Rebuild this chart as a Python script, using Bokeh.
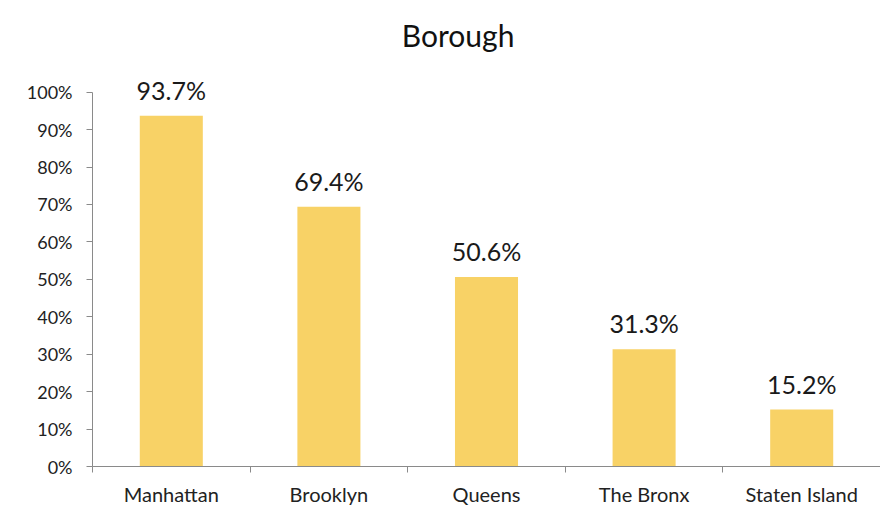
from bokeh.plotting import figure
from bokeh.models import ColumnDataSource, FixedTicker, PrintfTickFormatter, Range1d, Label
from bokeh.core.properties import value
from bokeh.embed import file_html
from bokeh.resources import INLINE

boroughs = ["Manhattan", "Brooklyn", "Queens", "The Bronx", "Staten Island"]
shares = [93.7, 69.4, 50.6, 31.3, 15.2]
title_text = "Borough"

FONT = "Lato"
BAR = "#F8D266"

pos = [i + 0.5 for i in range(len(boroughs))]
src = ColumnDataSource(dict(x=pos, y=shares, lbl=[f"{v:.1f}%" for v in shares]))

p = figure(width=880, height=508, output_backend="svg", toolbar_location=None,
           x_range=Range1d(0, len(boroughs)), y_range=Range1d(0, 119.15),
           min_border_left=92, min_border_right=0, min_border_top=20, min_border_bottom=40)
p.outline_line_color = None
p.xgrid.visible = False
p.ygrid.visible = False
p.background_fill_color = "white"

p.vbar(x="x", top="y", width=0.4, source=src, fill_color=BAR, line_color=None)
p.text(x="x", y="y", text="lbl", source=src, text_align="center", text_baseline="bottom",
       y_offset=-11, text_font_size="25px", text_color="#1a1a1a", text_font=value(FONT))

title = Label(x=2.32, y=110.5, text=title_text, text_align="center", text_baseline="bottom",
              text_font=FONT, text_font_size="30px", text_color="#111111")
p.add_layout(title)

ax = p.xaxis[0]
ax.ticker = FixedTicker(ticks=pos, minor_ticks=list(range(len(boroughs) + 1)))
ax.major_label_overrides = {pos[i]: boroughs[i] for i in range(len(boroughs))}
ax.major_tick_out = 0
ax.major_tick_in = 0
ax.minor_tick_out = 6
ax.minor_tick_in = 0
ax.minor_tick_line_color = "#8a8a8a"
ax.axis_line_color = "#8a8a8a"
ax.major_label_text_font = FONT
ax.major_label_text_font_size = "20px"
ax.major_label_text_color = "#222222"
ax.major_label_standoff = 9

ay = p.yaxis[0]
ay.ticker = FixedTicker(ticks=list(range(0, 101, 10)))
ay.bounds = (0, 100)
ay.formatter = PrintfTickFormatter(format="%d%%")
ay.minor_tick_line_color = None
ay.major_tick_out = 6
ay.major_tick_in = 0
ay.major_tick_line_color = "#8a8a8a"
ay.axis_line_color = "#8a8a8a"
ay.major_label_text_font = FONT
ay.major_label_text_font_size = "18px"
ay.major_label_text_color = "#222222"
ay.major_label_standoff = 14

open("out.html", "w").write(file_html(p, INLINE))
